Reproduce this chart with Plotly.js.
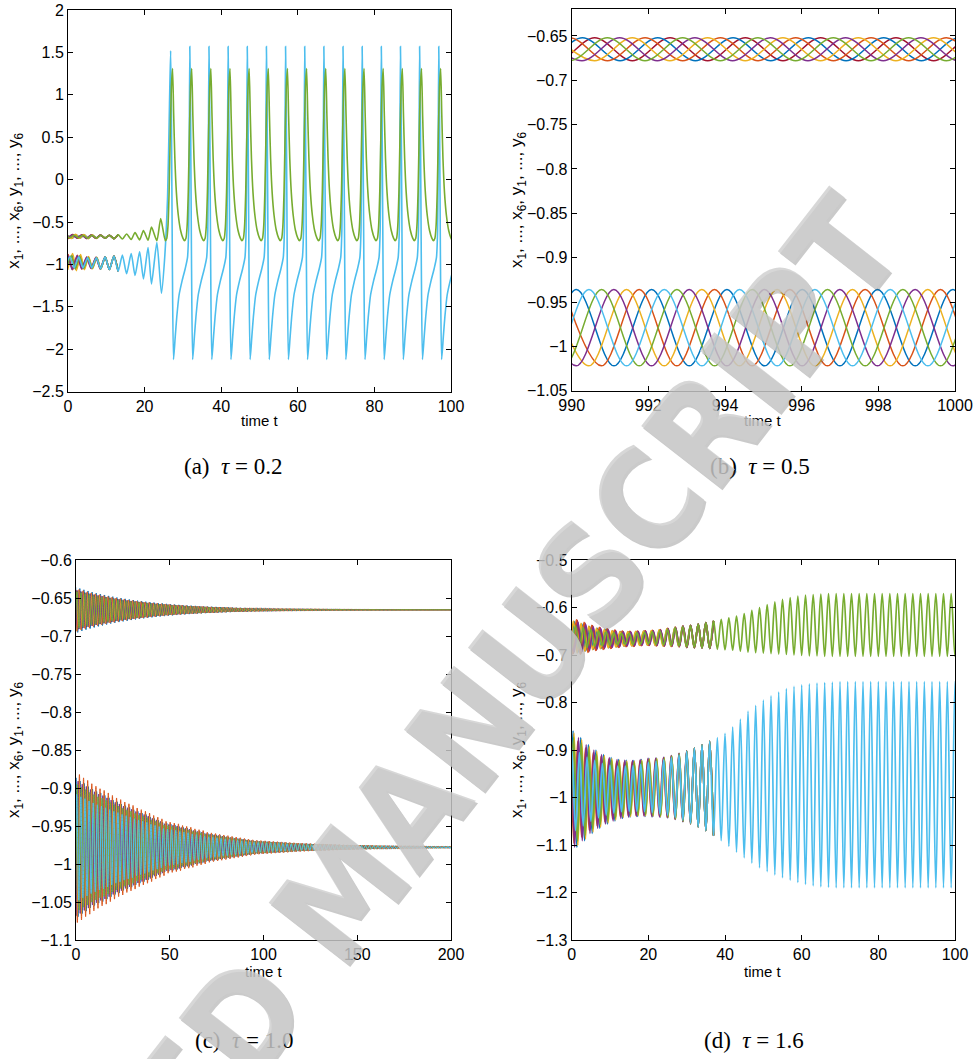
<!DOCTYPE html>
<html><head><meta charset="utf-8">
<script src="https://cdn.plot.ly/plotly-3.0.1.min.js"></script>
<style>html,body{margin:0;padding:0;background:#fff}#chart{width:974px;height:1059px}</style>
</head><body><div id="chart"></div>
<script>
// ---------- common ----------
const COLORS = ['#0072BD','#D95319','#EDB120','#7E2F8E','#77AC30','#4DBEEE','#A2142F'];
const seriesNames = ['x1','x2','x3','x4','x5','x6','y1','y2','y3','y4','y5','y6'];
const seriesColorIdx = [0,1,2,3,4,5,6,0,1,2,3,4];
const captions = ['(a)  <i>τ</i> = 0.2','(b)  <i>τ</i> = 0.5','(c)  <i>τ</i> = 1.0','(d)  <i>τ</i> = 1.6'];
const yTitle = 'x<sub>1</sub>, ..., x<sub>6</sub>, y<sub>1</sub>, ..., y<sub>6</sub>';
const xTitle = 'time t';

// ---------- panel (a) tau = 0.2 ----------
const aSpikeTimes = [26.8,31.8,36.8,41.8,46.8,51.8,56.8,61.8,66.8,71.8,76.8,81.8,86.8,91.8,96.8];
const aSpikePeakX = [1.52,1.57,1.57,1.57,1.57,1.57,1.57,1.57,1.57,1.57,1.57,1.57,1.57,1.57,1.57];
const aXShapeDt = [0.2,0.45,0.75,1.2,1.6,2.2,3.0,3.8,4.4,4.7,4.85];
const aXShapeV  = [0.8,-1.0,-2.12,-1.85,-1.62,-1.36,-1.19,-1.05,-0.92,-0.6,0.3];
const aYShapeDt = [0.5,0.8,1.1,1.5,2.0,2.6,3.2,3.6,4.0,4.3,4.6,4.9,5.2];
const aYShapeV  = [1.31,0.75,0.25,-0.15,-0.42,-0.60,-0.69,-0.72,-0.69,-0.55,-0.15,0.55,1.1];
const aXEarlyT = [-0.8,0.5,1.6,2.8,3.9,5.1,6.2,7.4,8.5,9.7,10.8,12.0,13.1,14.2,15.3,16.5,17.5,18.7,19.7,20.9,21.8,23.2,24.4,25.2,26.0,26.5];
const aXEarlyV = [-1.03,-0.91,-1.04,-0.91,-1.04,-0.92,-1.04,-0.92,-1.05,-0.91,-1.06,-0.90,-1.08,-0.89,-1.11,-0.87,-1.13,-0.85,-1.17,-0.80,-1.23,-0.74,-1.34,-0.95,-0.2,0.9];
const aYEarlyT = [-0.8,0.5,1.6,2.8,3.9,5.1,6.2,7.4,8.5,9.7,10.8,12.0,13.1,14.2,15.3,16.5,17.5,18.7,19.7,20.9,21.8,23.2,24.2,25.4,25.8,26.1,26.4,26.7,27.0];
const aYEarlyV = [-0.66,-0.685,-0.655,-0.685,-0.655,-0.69,-0.655,-0.69,-0.655,-0.69,-0.655,-0.695,-0.65,-0.70,-0.64,-0.705,-0.625,-0.71,-0.60,-0.715,-0.56,-0.72,-0.46,-0.72,-0.69,-0.55,-0.15,0.55,1.1];
const aXCenter = -0.975, aYCenter = -0.672;
const aDesync = [1,1,0.85,0.7,0.55,0.4,0.28,0.18,0.1,0.04,0];
const aPhase = [0.55,-0.45,0.7,-0.6,0.35,0, -0.5,0.6,-0.35,0.45,-0.65,0];
const aAmpBoost = [0.3,0.4,0.6,0.35,0.2,0, 0.5,0.4,0.6,0.7,0.3,0];
const aSyncEnd = 13;   // after this time all series coincide with x6 / y6

// ---------- panel (b) tau = 0.5 ----------
const bPeriod = 1.965;
const bXFirstPeak = [990.12,991.76,991.43,991.10,990.78,990.45];
const bYFirstPeak = [990.60,990.28,989.95,991.58,991.25,990.93];
const bXBand = [-0.936,-1.022];
const bYBand = [-0.652,-0.678];

// ---------- panel (c) tau = 1.0 ----------
const cPeriod = 2.2;
const cUpCenter = -0.6655, cLowCenter = -0.978;
const cLowAmp = [.090,.087,.083,.080,.076,.073,.070,.068,.065,.062,.059,.057,.054,.052,.050,.047,.045,.043,.041,.038,
 .036,.034,.031,.030,.029,.028,.026,.025,.024,.022,.021,.020,.018,.0172,.0164,.0155,.0147,.0139,.0130,.0122,
 .0114,.0105,.0097,.0089,.0083,.0080,.0077,.0074,.0070,.0067,.0064,.0061,.0057,.0054,.0051,.0049,.0047,.0045,.0043,.0041,
 .0040,.0038,.0036,.0034,.0032,.0030,.0029,.0028,.0027,.0026,.0025,.0024,.0023,.0021,.0020,.0019,.0018,.0017,.0017,.0016,
 .0015,.0015,.0014,.0013,.0012,.0011,.0011,.0010,.0010,.0009,.0009,.0009,.0008];
const cUpAmp = [.027,.0254,.0239,.0225,.0212,.0199,.0188,.0177,.0166,.0157,.0147,.0139,.0131,.0123,.0116,.0109,.0103,.0097,.0091,.0086,
 .0080,.0076,.0071,.0067,.0063,.0059,.0056,.0052,.0049,.0047,.0044,.0041,.0039,.0037,.0035,.0032,.0031,.0029,.0027,.0025,
 .0024,.0023,.0021,.0020,.0019,.0018,.0017,.0016,.0015,.0014,.0013,.0012,.0012,.0011,.0010,.0010,.0009,.0009,.0008,.0008,
 .0007,.0007,.0006,.0006,.0006,.0005,.0005,.0005,.0004,.0004,.0004,.0004,.0003,.0003,.0003,.0003,.0003,.0003,.0002,.0002,
 .0002,.0002,.0002,.0002,.0002,.0002,.0001,.0001,.0001,.0001,.0001,.0001,.0001];
const cPhase = [0.00,0.83,0.67,0.50,0.33,0.17, 0.08,0.92,0.75,0.58,0.42,0.25];
const cAmpScale = [1.05,1.1,1.0,1.0,0.95,0.8, 1.0,1.1,1.05,1.0,1.0,0.95];

// ---------- panel (d) tau = 1.6 ----------
const dPeriod = 2.0;
const dUpTop = [-0.638,-0.642,-0.646,-0.649,-0.651,-0.653,-0.654,-0.654,-0.653,-0.652,
 -0.651,-0.649,-0.646,-0.643,-0.640,-0.638,-0.635,-0.632,-0.628,-0.625,
 -0.622,-0.618,-0.613,-0.606,-0.600,-0.594,-0.588,-0.583,-0.579,-0.576,
 -0.574,-0.573,-0.572,-0.571,-0.571,-0.571,-0.571,-0.571,-0.571,-0.571,-0.571,-0.571,-0.571,-0.571,-0.571,-0.571,-0.571,-0.571,-0.571,-0.571,-0.571];
const dUpBot = [-0.686,-0.684,-0.682,-0.681,-0.680,-0.679,-0.678,-0.678,-0.677,-0.677,
 -0.678,-0.679,-0.680,-0.681,-0.683,-0.684,-0.685,-0.686,-0.688,-0.689,
 -0.690,-0.692,-0.694,-0.695,-0.696,-0.697,-0.698,-0.699,-0.700,-0.701,
 -0.702,-0.702,-0.703,-0.703,-0.703,-0.703,-0.703,-0.703,-0.703,-0.703,-0.703,-0.703,-0.703,-0.703,-0.703,-0.703,-0.703,-0.703,-0.703,-0.703,-0.703];
const dLowTop = [-0.895,-0.905,-0.915,-0.922,-0.928,-0.932,-0.934,-0.934,-0.933,-0.930,
 -0.926,-0.924,-0.921,-0.916,-0.910,-0.903,-0.896,-0.889,-0.882,-0.874,
 -0.865,-0.852,-0.835,-0.818,-0.806,-0.795,-0.786,-0.778,-0.771,-0.766,
 -0.763,-0.761,-0.759,-0.758,-0.757,-0.756,-0.756,-0.756,-0.756,-0.756,-0.756,-0.756,-0.756,-0.756,-0.756,-0.756,-0.756,-0.756,-0.756,-0.756,-0.756];
const dLowBot = [-1.070,-1.060,-1.050,-1.043,-1.037,-1.033,-1.030,-1.029,-1.029,-1.030,
 -1.032,-1.034,-1.037,-1.042,-1.048,-1.054,-1.062,-1.070,-1.080,-1.091,
 -1.103,-1.115,-1.127,-1.138,-1.148,-1.156,-1.163,-1.169,-1.174,-1.179,
 -1.183,-1.186,-1.188,-1.189,-1.190,-1.190,-1.190,-1.190,-1.190,-1.190,-1.190,-1.190,-1.190,-1.190,-1.190,-1.190,-1.190,-1.190,-1.190,-1.190,-1.190];
const dDesync = [1,1,0.95,0.9,0.85,0.8,0.72,0.64,0.56,0.48,0.4,0.32,0.24,0.16,0.1,0.05,0];
const dPhase = [0.18,-0.22,0.30,-0.12,0.25,0, 0.22,-0.18,0.12,-0.28,0.32,0];
const dAmpBoost = [0.4,0.3,0.35,0.4,0.25,0, 0.45,0.35,0.5,0.4,0.3,0];
const dSyncEnd = 36;   // after this time all series coincide with x6 / y6

// ---------- builders ----------
const isLast = k => k===5 || k===11;
function trim(xs,ys,end){
  const n = xs.findIndex(t=>t>end);
  return n<0?{x:xs,y:ys}:{x:xs.slice(0,n+1),y:ys.slice(0,n+1)};
}
function buildA(k){
  const isY = k>=6, xs=[], ys=[];
  const eT = isY?aYEarlyT:aXEarlyT, eV = isY?aYEarlyV:aXEarlyV, cen = isY?aYCenter:aXCenter;
  for(let i=0;i<eT.length;i++){
    const d = i<aDesync.length?aDesync[i]:0;
    xs.push(eT[i]+aPhase[k]*d); ys.push(cen+(eV[i]-cen)*(1+aAmpBoost[k]*d));
  }
  const dt = isY?aYShapeDt:aXShapeDt, v = isY?aYShapeV:aXShapeV;
  aSpikeTimes.forEach((s,si)=>{
    if(!isY){xs.push(s); ys.push(aSpikePeakX[si]);}
    for(let j=0;j<dt.length;j++){xs.push(s+dt[j]); ys.push(v[j]);}
  });
  return trim(xs,ys,isLast(k)?Infinity:aSyncEnd);
}
function buildB(k){
  const isY=k>=6, fp=isY?bYFirstPeak[k-6]:bXFirstPeak[k], band=isY?bYBand:bXBand, xs=[], ys=[];
  for(let t=fp-bPeriod; t<=1000+bPeriod; t+=bPeriod){
    xs.push(t); ys.push(band[0]); xs.push(t+bPeriod/2); ys.push(band[1]);
  }
  return {x:xs,y:ys};
}
function buildC(k){
  const isY=k>=6, amp=isY?cUpAmp:cLowAmp, c=isY?cUpCenter:cLowCenter, xs=[], ys=[];
  for(let i=0;i<amp.length;i++){
    const tp=(i+cPhase[k]-1)*cPeriod;
    xs.push(tp); ys.push(c+amp[i]*cAmpScale[k]);
    xs.push(tp+cPeriod/2); ys.push(c-amp[i]*cAmpScale[k]);
  }
  return {x:xs,y:ys};
}
function buildD(k){
  const isY=k>=6, top=isY?dUpTop:dLowTop, bot=isY?dUpBot:dLowBot, ph0=isY?0.5:0, xs=[], ys=[];
  for(let i=-1;i<top.length;i++){
    const ii=Math.max(i,0), d=i<0?1:(i<dDesync.length?dDesync[i]:0);
    const tp=(i+ph0+dPhase[k]*d)*dPeriod, cen=(top[ii]+bot[ii])/2, g=1+dAmpBoost[k]*d;
    xs.push(tp); ys.push(cen+(top[ii]-cen)*g);
    xs.push(tp+dPeriod/2); ys.push(cen+(bot[ii]-cen)*g);
  }
  return trim(xs,ys,isLast(k)?Infinity:dSyncEnd);
}

const traces=[];
const panels=[{b:buildA,ax:'',w:1.6,sm:0.6},{b:buildB,ax:'2',w:1.5,sm:1},{b:buildC,ax:'3',w:1,sm:1},{b:buildD,ax:'4',w:1.7,sm:1}];
panels.forEach(p=>{
  for(let k=0;k<12;k++){
    const d=p.b(k);
    traces.push({type:'scatter',mode:'lines',name:seriesNames[k],x:d.x,y:d.y,xaxis:'x'+p.ax,yaxis:'y'+p.ax,
      line:{color:COLORS[seriesColorIdx[k]],width:p.w,shape:'spline',smoothing:p.sm},hoverinfo:'skip'});
  }
});

// ---------- layout ----------
const W=974,H=1059;
const FONT='Liberation Sans, Arial, Helvetica, sans-serif';
function ax(domain,range,dtick,anchor){
  return {domain:domain,range:range,dtick:dtick,tick0:range[0],anchor:anchor,
    showline:true,linecolor:'#000',linewidth:1,mirror:'ticks',ticks:'inside',ticklen:5,tickwidth:1,tickcolor:'#000',
    showgrid:false,zeroline:false,tickfont:{family:FONT,size:16,color:'#000'},fixedrange:true};
}
const px=v=>v/W, py=v=>1-v/H;
const boxes=[
  {l:68,r:451,t:10,b:391.7,xr:[0,100],xd:20,yr:[-2.5,2],yd:0.5},
  {l:571.7,r:955,t:9.3,b:390.7,xr:[990,1000],xd:2,yr:[-1.05,-0.62],yd:0.05},
  {l:76,r:451,t:560,b:940,xr:[0,200],xd:50,yr:[-1.1,-0.6],yd:0.05},
  {l:571.7,r:955,t:560,b:940,xr:[0,100],xd:20,yr:[-1.3,-0.5],yd:0.1}
];
const layout={width:W,height:H,margin:{l:0,r:0,t:0,b:0},paper_bgcolor:'#fff',plot_bgcolor:'#fff',showlegend:false,
  font:{family:FONT,size:16,color:'#000'},annotations:[]};
const yTitleX=[15,518,15,518], xTitleY=[420,420,971,971];
const capPos=[[233,466],[760,466],[245,1040],[754,1040]];
boxes.forEach((b,i)=>{
  const s=i===0?'':String(i+1);
  layout['xaxis'+s]=ax([px(b.l),px(b.r)],b.xr,b.xd,'y'+s);
  layout['yaxis'+s]=ax([py(b.b),py(b.t)],b.yr,b.yd,'x'+s);
  layout.annotations.push({text:yTitle,textangle:-90,showarrow:false,xref:'paper',yref:'paper',
    x:px(yTitleX[i]),y:py((b.t+b.b)/2),xanchor:'center',yanchor:'middle',font:{family:FONT,size:17,color:'#000'}});
  layout.annotations.push({text:xTitle,showarrow:false,xref:'paper',yref:'paper',
    x:px((b.l+b.r)/2),y:py(xTitleY[i]),xanchor:'center',yanchor:'middle',font:{family:FONT,size:15,color:'#000'}});
  layout.annotations.push({text:captions[i],showarrow:false,xref:'paper',yref:'paper',
    x:px(capPos[i][0]),y:py(capPos[i][1]),xanchor:'center',yanchor:'middle',
    font:{family:'Liberation Serif, DejaVu Serif, serif',size:23,color:'#000'}});
});
// watermark (drawn above the charts, semi-transparent)
const wmText='ACCEPTED MANUSCRIPT';
const wmLayers=[{c:'rgba(80,80,80,0.30)',dx:3,dy:3},{c:'rgba(205,205,205,0.80)',dx:0,dy:0}];
wmLayers.forEach(o=>{
  layout.annotations.push({text:wmText,showarrow:false,xref:'paper',yref:'paper',textangle:-52,
    x:px(350+o.dx),y:py(884+o.dy),xanchor:'center',yanchor:'middle',
    font:{family:'DejaVu Sans Condensed, Liberation Sans Narrow, DejaVu Sans, sans-serif',size:138,weight:'bold',color:o.c}});
});
Plotly.newPlot('chart',traces,layout,{staticPlot:true});
</script></body></html>
